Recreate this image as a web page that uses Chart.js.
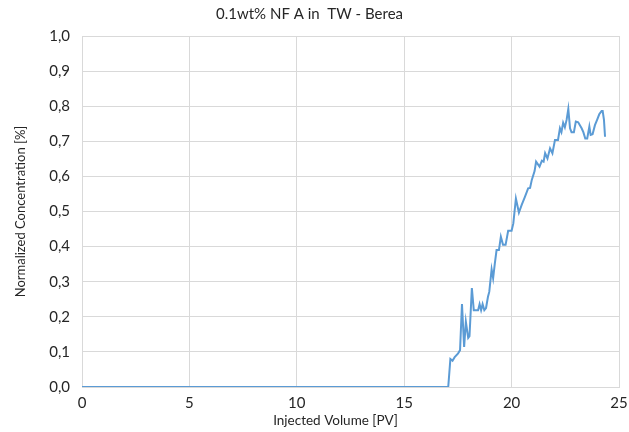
<!DOCTYPE html>
<html>
<head>
<meta charset="utf-8">
<script src="https://cdn.jsdelivr.net/npm/chart.js@4"></script>
<style>
  html, body { margin: 0; padding: 0; background: #fff; }
  #wrap { width: 629px; height: 432px; position: relative; }
</style>
</head>
<body>
<div id="wrap"><canvas id="chart"></canvas></div>
<script>
// ── DATA ──────────────────────────────────────────
const injectedPV = [
  0, 17.05, 17.15, 17.25, 17.35, 17.5, 17.6, 17.69, 17.79, 17.87, 17.98, 18.04,
  18.15, 18.24, 18.32, 18.44, 18.51, 18.58, 18.65, 18.73, 18.81, 18.9, 18.96,
  19.07, 19.14, 19.22, 19.3, 19.41, 19.5, 19.6, 19.72, 19.84, 20.0, 20.08, 20.2,
  20.34, 20.47, 20.62, 20.77, 20.86, 20.94, 21.07, 21.14, 21.3, 21.41, 21.49,
  21.56, 21.67, 21.79, 21.9, 22.02, 22.16, 22.25, 22.32, 22.4, 22.48, 22.56,
  22.64, 22.72, 22.79, 22.9, 22.99, 23.1, 23.26, 23.34, 23.43, 23.52, 23.62,
  23.68, 23.77, 23.88, 23.98, 24.08, 24.19, 24.24, 24.3, 24.35
];
const concentration = [
  0, 0, 0.08, 0.075, 0.085, 0.095, 0.105, 0.236, 0.114, 0.186, 0.14, 0.145,
  0.282, 0.219, 0.219, 0.219, 0.236, 0.219, 0.236, 0.219, 0.225, 0.257, 0.271,
  0.335, 0.31, 0.352, 0.39, 0.39, 0.428, 0.405, 0.405, 0.445, 0.445, 0.466, 0.537,
  0.497, 0.519, 0.542, 0.566, 0.567, 0.59, 0.615, 0.642, 0.628, 0.645, 0.642,
  0.666, 0.651, 0.68, 0.666, 0.704, 0.704, 0.737, 0.726, 0.753, 0.74, 0.761,
  0.792, 0.737, 0.726, 0.726, 0.756, 0.754, 0.737, 0.726, 0.708, 0.708, 0.742,
  0.718, 0.72, 0.746, 0.761, 0.777, 0.786, 0.786, 0.761, 0.713
];
const xTitle = 'Injected Volume [PV]';

const FONT = 'Lato, "Open Sans", sans-serif';
const TEXT = '#262626';
const GRID = '#d9d9d9';

const points = injectedPV.map((x, i) => ({ x, y: concentration[i] }));

// x-axis title sits a little left of the plot centre, as in the original
const xTitlePlugin = {
  id: 'xTitle',
  afterDraw(chart) {
    const { ctx, chartArea } = chart;
    ctx.save();
    ctx.font = `13.5px ${FONT}`;
    ctx.fillStyle = TEXT;
    ctx.textAlign = 'center';
    ctx.textBaseline = 'middle';
    ctx.fillText(xTitle, (chartArea.left + chartArea.right) / 2 - 15, chart.height - 11);
    ctx.restore();
  }
};

new Chart(document.getElementById('chart'), {
  type: 'line',
  data: {
    datasets: [{
      data: points,
      borderColor: '#5B9BD5',
      borderWidth: 2,
      pointRadius: 0,
      tension: 0,
      fill: false
    }]
  },
  options: {
    responsive: true,
    maintainAspectRatio: false,
    animation: false,
    layout: { padding: { left: 0, right: 10, top: 0, bottom: 0 } },
    plugins: {
      legend: { display: false },
      tooltip: { enabled: false },
      title: {
        display: true,
        text: '0.1wt% NF A in  TW - Berea',
        color: TEXT,
        font: { family: FONT, size: 15, weight: 'normal' },
        padding: { top: 5, bottom: 13 }
      }
    },
    scales: {
      x: {
        type: 'linear',
        min: 0, max: 25,
        ticks: { stepSize: 5, color: TEXT, font: { family: FONT, size: 15 }, padding: 7 },
        grid: { color: GRID, drawTicks: false },
        border: { color: GRID },
        afterFit: s => { s.height = 45; s.paddingLeft = 0; s.paddingRight = 0; }
      },
      y: {
        min: 0, max: 1,
        ticks: {
          stepSize: 0.1, color: TEXT, font: { family: FONT, size: 15 }, padding: 12,
          callback: v => v.toFixed(1).replace('.', ',')
        },
        grid: { color: GRID, drawTicks: false },
        border: { color: GRID },
        title: {
          display: true, text: 'Normalized Concentration [%]', color: TEXT,
          font: { family: FONT, size: 13 }, padding: { top: 13, bottom: 0 }
        },
        afterFit: s => { s.width = 82; }
      }
    }
  },
  plugins: [xTitlePlugin]
});
</script>
</body>
</html>
